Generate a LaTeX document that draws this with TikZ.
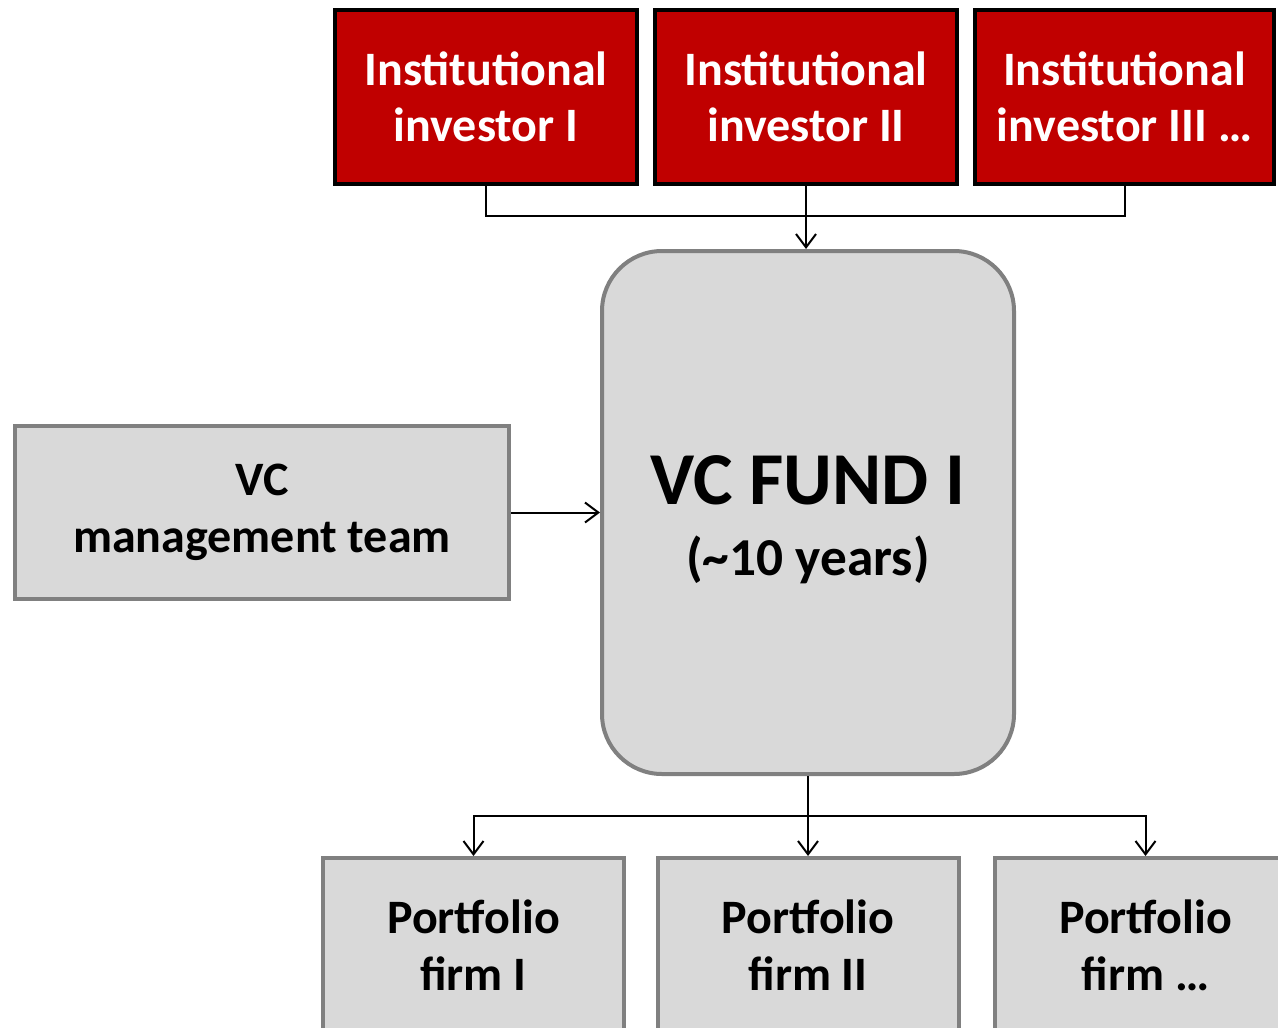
\documentclass[tikz,border=0pt]{standalone}
\usepackage{fontspec}
\setmainfont{Carlito}
\usetikzlibrary{arrows.meta}
\definecolor{invred}{HTML}{C00000}
\definecolor{boxgray}{HTML}{D9D9D9}
\definecolor{edgegray}{HTML}{808080}
\tikzset{
  invbox/.style={draw=black, line width=3pt, fill=invred, text=white, align=center,
    font=\fontsize{36}{42}\selectfont\bfseries, inner sep=0pt},
  graybox/.style={draw=edgegray, line width=3pt, fill=boxgray, text=black, align=center,
    font=\fontsize{36}{42.75}\selectfont\bfseries, inner sep=0pt},
  conn/.style={draw=black, line width=1.5pt},
  arr/.style={conn, -{Straight Barb[length=10pt, width=15pt, line width=1.5pt]}}
}
\begin{document}
\begin{tikzpicture}[x=0.75pt, y=-0.75pt]
\useasboundingbox (0,0) rectangle (1278,1028);
\clip (0,0) rectangle (1278,1028);
\fill[white] (0,0) rectangle (1278,1028);
% investors
\node[invbox, minimum width=226.5pt, minimum height=130.5pt] (i1) at (486,97) {Institutional\\investor I};
\node[invbox, minimum width=226.5pt, minimum height=130.5pt] (i2) at (806,97) {Institutional\\investor II};
\node[invbox, minimum width=224.25pt, minimum height=130.5pt] (i3) at (1124.5,97) {Institutional\\investor III \dots};
% fund
\node[graybox, rounded corners=45pt, minimum width=309pt, minimum height=392.25pt] (fund) at (808,512.5) {};
\node[font=\fontsize{56}{60}\selectfont\bfseries, anchor=base] (fundt) at (808,504) {VC FUND I};
\node[font=\fontsize{40}{44}\selectfont\bfseries, anchor=base] (funds) at (808,575) {({\char`\~}10 years)};
% management
\node[graybox, minimum width=370.5pt, minimum height=129.75pt] (mgmt) at (262,512.5) {VC\\management team};
% portfolio
\node[graybox, minimum width=225.75pt, minimum height=130.5pt] (p1) at (473.5,945) {Portfolio\\firm I};
\node[graybox, minimum width=225.75pt, minimum height=130.5pt] (p2) at (808,945) {Portfolio\\firm II};
\node[graybox, minimum width=225.75pt, minimum height=130.5pt] (p3) at (1145.5,945) {Portfolio\\firm \dots};
% connectors top
\coordinate (jt) at (806,216);
\draw[conn] (i1.south) |- (jt);
\draw[conn] (i3.south) |- (jt);
\draw[arr] (i2.south) -- (i2.south |- fund.north);
% management arrow
\draw[arr] (mgmt.east) -- (fund.west);
% bottom connectors
\coordinate (jb) at (808,816);
\draw[conn] (fund.south) -- (jb);
\draw[arr] (jb) -| (p1.north);
\draw[arr] (jb) -| (p3.north);
\draw[arr] (jb) -- (p2.north);
\end{tikzpicture}
\end{document}
